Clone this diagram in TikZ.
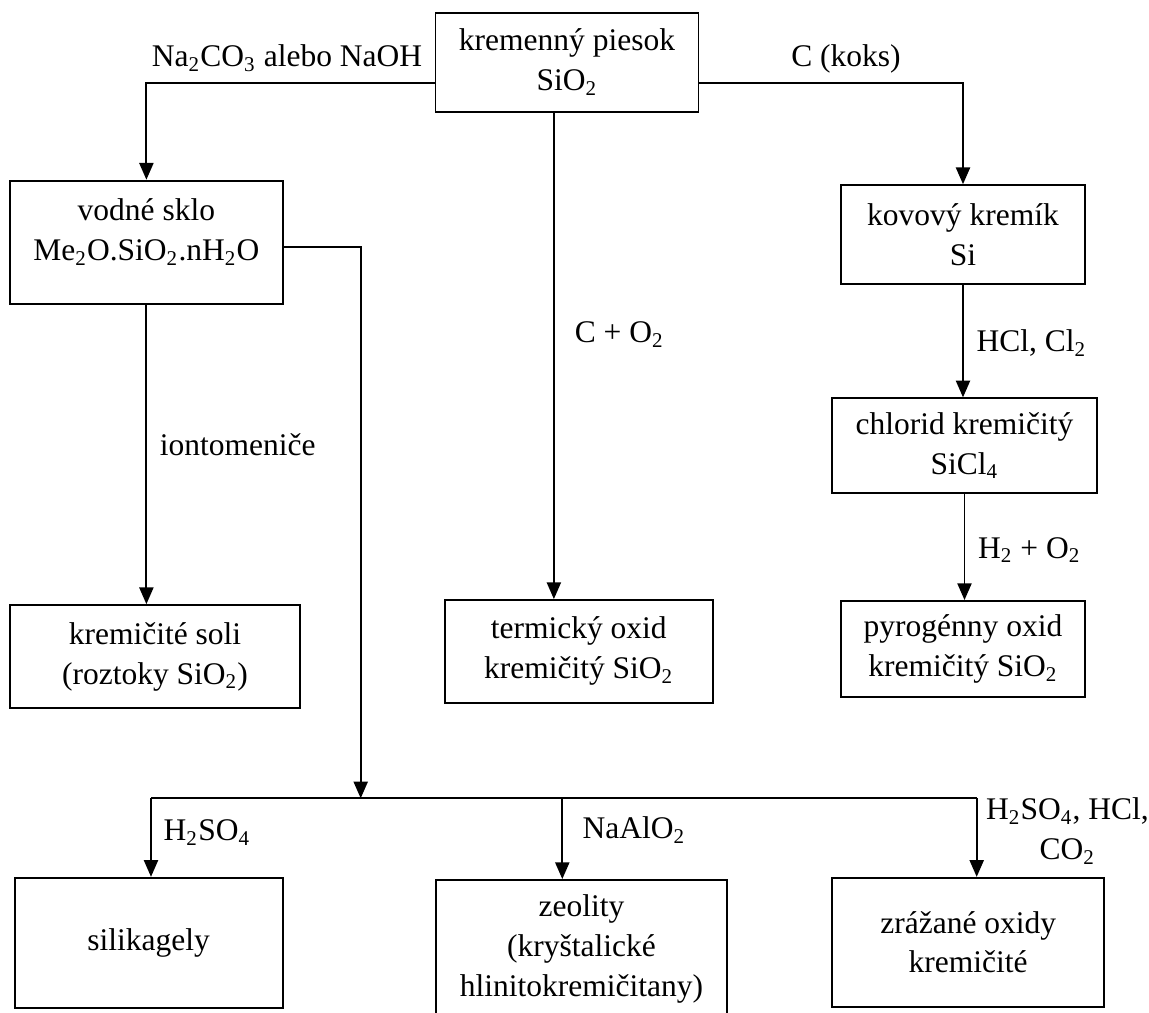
\documentclass[tikz,border=0pt]{standalone}
\usepackage{fontspec}
\setmainfont{Liberation Serif}
\usetikzlibrary{arrows.meta}
\newcommand{\sbs}[1]{\textsubscript{#1}}

\begin{document}
\begin{tikzpicture}[x = 0.381pt, y = -0.381pt, line width = 0.7pt, font = \fontsize{12}{15.2}\selectfont,
		box/.style = {draw, align = center, inner sep = 0pt},
		lbl/.style = {inner sep = 0pt, align = center},
		arr/.style = {-{Triangle[length = 6.4pt, width = 5.4pt]}}]
	\useasboundingbox (0, 0) rectangle (1149, 1012);
	% boxes
	\node[box, minimum width = 100.2pt, minimum height = 37.7pt] (sand) at (567, 62.2) {kremenný piesok\\SiO\sbs{2}};
	\node[box, minimum width = 103.9pt, minimum height = 47pt, text depth = 9.4pt] (glass) at (146.4, 242.3) {vodné sklo\\Me\sbs{2}O.SiO\sbs{2}.nH\sbs{2}O};
	\node[box, minimum width = 93pt, minimum height = 37.8pt] (si) at (963, 234.7) {kovový kremík\\Si};
	\node[box, minimum width = 101pt, minimum height = 36pt] (chl) at (964.5, 445.5) {chlorid kremičitý\\SiCl\sbs{4}};
	\node[box, minimum width = 110.3pt, minimum height = 39.2pt] (salt) at (155, 656.5) {kremičité soli\\(roztoky SiO\sbs{2})};
	\node[box, minimum width = 102pt, minimum height = 39.1pt] (therm) at (578.8, 651.3) {termický oxid\\kremičitý SiO\sbs{2}};
	\node[box, minimum width = 93pt, minimum height = 36.6pt] (pyro) at (963, 649) {pyrogénny oxid\\kremičitý SiO\sbs{2}};
	\node[box, minimum width = 102.1pt, minimum height = 49.5pt] (gel) at (148.7, 942.7) {silikagely};
	\node[box, minimum width = 110.9pt, minimum height = 52.6pt] (zeo) at (581.5, 949) {zeolity\\(kryštalické\\hlinitokremičitany)};
	\node[box, minimum width = 103.5pt, minimum height = 49.1pt] (prec) at (968.2, 942.2) {zrážané oxidy\\kremičité};
	% free ends
	\coordinate (midtop) at ([xshift = -5pt]sand.south);
	\coordinate (split) at (360.7, 798.3);
	\coordinate (busL) at (151, 798.3);
	\coordinate (busM) at (562.3, 798.3);
	\coordinate (busR) at (976.7, 798.3);
	% connectors
	\draw[arr] ([yshift = -8pt]sand.west) -| node[lbl, pos = 0.02, anchor = base east, yshift = 6.3pt] (lna) {Na\sbs{2}CO\sbs{3} alebo NaOH} (glass.north);
	\draw[arr] ([yshift = -8pt]sand.east) -| node[lbl, pos = 0.278, anchor = base, yshift = 6.3pt] (lkoks) {C (koks)} (si.north);
	\draw[arr] (midtop) -- node[lbl, pos = 0.457, right = 7.6pt] (lco) {C + O\sbs{2}} (midtop |- therm.north);
	\draw[arr] (glass.south) -- node[lbl, pos = 0.468, right = 4.8pt] (lion) {iontomeniče} (glass.south |- salt.north);
	\draw[arr] (si.south) -- node[lbl, pos = 0.515, right = 4.8pt] (lhcl) {HCl, Cl\sbs{2}} (si.south |- chl.north);
	\draw[arr] (chl.south) -- node[lbl, pos = 0.53, right = 4.8pt] (lho) {H\sbs{2} + O\sbs{2}} (chl.south |- pyro.north);
	\draw[arr] ([yshift = -1.7pt]glass.east) -| (split);
	\draw (busL) -- (busR);
	\draw[arr] (busL) -- node[lbl, pos = 0.44, right = 4.5pt] (lhs) {H\sbs{2}SO\sbs{4}} (busL |- gel.north);
	\draw[arr] (busM) -- node[lbl, pos = 0.39, right = 7.4pt] (lal) {NaAlO\sbs{2}} (busM |- zeo.north);
	\draw[arr] (busR) -- node[lbl, pos = 0.42, right = 3.2pt] (lacid) {H\sbs{2}SO\sbs{4}, HCl,\\CO\sbs{2}} (busR |- prec.north);
\end{tikzpicture}
\end{document}
